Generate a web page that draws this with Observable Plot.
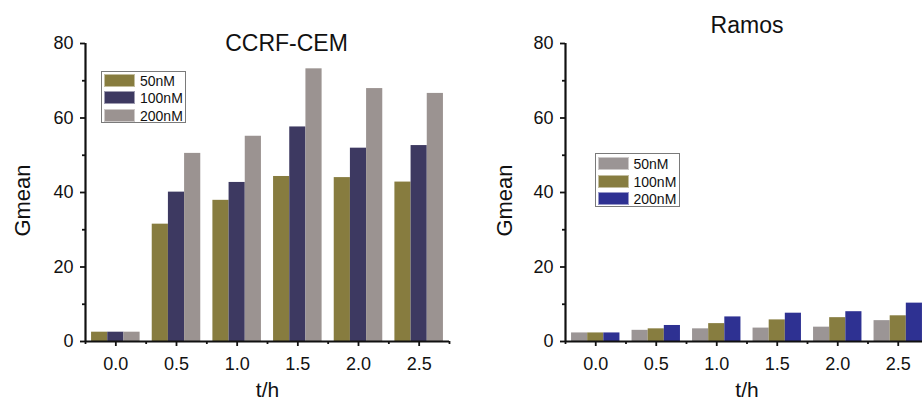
<!DOCTYPE html>
<html>
<head>
<meta charset="utf-8">
<script src="https://cdn.jsdelivr.net/npm/d3@7"></script>
<script src="https://cdn.jsdelivr.net/npm/@observablehq/plot@0.6"></script>
<style>
  body { margin: 0; background: #fff; font-family: "Liberation Sans", Arial, sans-serif; }
  #wrap { position: relative; width: 922px; height: 402px; overflow: hidden; }
  .panel { position: absolute; top: 0; height: 402px; overflow: hidden; }
  .panel svg { max-width: none !important; }
  .legend { position: absolute; box-sizing: border-box; border: 1px solid #7a7a7a; background: #fff; width: 85px; }
  .legend .sw { position: absolute; width: 31px; height: 13px; box-sizing: border-box; border: 1px solid rgba(255,255,255,0.5); }
  .legend .lb { position: absolute; font-size: 14px; line-height: 14px; color: #111; white-space: nowrap; }
</style>
</head>
<body>
<div id="wrap"></div>
<script>
// ---- data ----
const tValues = [0, 0.5, 1, 1.5, 2, 2.5];
const tLabels = ["0.0", "0.5", "1.0", "1.5", "2.0", "2.5"];
const concentrations = ["50nM", "100nM", "200nM"];

const ccrf50  = [2.5, 31.5, 37.9, 44.3, 44.0, 42.8];
const ccrf100 = [2.5, 40.1, 42.7, 57.6, 51.9, 52.6];
const ccrf200 = [2.5, 50.5, 55.1, 73.2, 67.9, 66.6];

const ramos50  = [2.3, 3.0, 3.4, 3.6, 3.85, 5.6];
const ramos100 = [2.3, 3.4, 4.8, 5.8, 6.4, 6.9];
const ramos200 = [2.3, 4.3, 6.6, 7.6, 8.0, 10.3];

const yTicks = [0, 20, 40, 60, 80];
const yMinorTicks = [10, 30, 50, 70];

const ccrfColors  = ["#877c3f", "#3d3961", "#9b9391"];
const ramosColors = ["#9b9595", "#877d40", "#2e3192"];

// ---- layout/style constants ----
const groupStep = 0.5;
const groupFill = 0.8;
const FONT = "'Liberation Sans', Arial, sans-serif";

function panel(cfg) {
  const rows = [];
  cfg.series.forEach((vals, i) =>
    vals.forEach((v, j) => rows.push({t: tValues[j], conc: concentrations[i], i, value: v}))
  );
  const n = concentrations.length;
  const bw = groupFill * groupStep / n;
  const xDomain = [tValues[0] - groupStep / 2, tValues[tValues.length - 1] + groupStep / 2];
  const boundaries = [...tValues.map(t => t - groupStep / 2), xDomain[1]];
  const svg = Plot.plot({
    width: cfg.width,
    height: 402,
    marginLeft: cfg.marginLeft,
    marginRight: cfg.marginRight,
    marginTop: 43,
    marginBottom: 61,
    style: {fontFamily: FONT, fontSize: "18px", color: "#111", background: "transparent", overflow: "visible", maxWidth: "none"},
    x: {domain: xDomain},
    y: {domain: [0, 80]},
    color: {domain: concentrations, range: cfg.colors},
    marks: [
      Plot.rectY(rows, {
        x1: d => d.t + (d.i - n / 2) * bw,
        x2: d => d.t + (d.i - n / 2 + 1) * bw,
        y: "value",
        fill: "conc"
      }),
      Plot.ruleY([0], {strokeWidth: 2.2, stroke: "#111"}),
      Plot.ruleX([xDomain[0]], {strokeWidth: 2.2, stroke: "#111"}),
      Plot.axisY({ticks: yTicks, tickSize: 5, tickPadding: 7, strokeWidth: 1.8, label: null}),
      Plot.axisY({ticks: yMinorTicks, tickSize: 3, tickFormat: () => "", strokeWidth: 1.8, label: null}),
      Plot.axisX({ticks: tValues, tickSize: 5, tickPadding: 11, strokeWidth: 1.8, tickFormat: d3.format(".1f"), label: null}),
      Plot.axisX({ticks: boundaries, tickSize: 3, tickFormat: () => "", strokeWidth: 1.8, label: null}),
      Plot.text([cfg.title], {text: d => d, frameAnchor: "top", dx: cfg.titleDx, dy: cfg.titleDy, lineAnchor: "bottom", fontSize: 23, fill: "#111"}),
      Plot.text(["Gmean"], {text: d => d, frameAnchor: "left", rotate: -90, dx: cfg.yLabelDx, dy: 8, textAnchor: "middle", lineAnchor: "middle", fontSize: 22, fill: "#111"}),
      Plot.text(["t/h"], {text: d => d, frameAnchor: "bottom", dx: cfg.xLabelDx, dy: 55, lineAnchor: "bottom", fontSize: 21, fill: "#111"})
    ]
  });
  svg.style.maxWidth = "none";
  return svg;
}

function legend(colors, box) {
  const el = document.createElement("div");
  el.className = "legend";
  el.style.left = box.left + "px";
  el.style.top = box.top + "px";
  el.style.height = box.height + "px";
  concentrations.forEach((c, i) => {
    const sw = document.createElement("div");
    sw.className = "sw";
    sw.style.left = box.swLeft + "px";
    sw.style.top = (box.rowTop + i * box.pitch) + "px";
    sw.style.background = colors[i];
    el.appendChild(sw);
    const lb = document.createElement("div");
    lb.className = "lb";
    lb.textContent = c;
    lb.style.left = box.textLeft + "px";
    lb.style.top = (box.rowTop + i * box.pitch) + "px";
    el.appendChild(lb);
  });
  return el;
}

const wrap = document.getElementById("wrap");

const left = document.createElement("div");
left.className = "panel";
left.style.left = "0px";
left.style.width = "461px";
left.appendChild(panel({
  width: 461, marginLeft: 85, marginRight: 12,
  series: [ccrf50, ccrf100, ccrf200], colors: ccrfColors,
  title: "CCRF-CEM", titleDx: 19, titleDy: 7, yLabelDx: -63, xLabelDx: 0
}));
left.appendChild(legend(ccrfColors, {left: 101, top: 71, height: 52, swLeft: 2, rowTop: 2, pitch: 17.3, textLeft: 38}));
wrap.appendChild(left);

const right = document.createElement("div");
right.className = "panel";
right.style.left = "461px";
right.style.width = "461px";
right.appendChild(panel({
  width: 470, marginLeft: 104, marginRight: 3,
  series: [ramos50, ramos100, ramos200], colors: ramosColors,
  title: "Ramos", titleDx: 0, titleDy: -11, yLabelDx: -61, xLabelDx: 0
}));
right.appendChild(legend(ramosColors, {left: 134, top: 153, height: 54, swLeft: 1.5, rowTop: 3, pitch: 17.7, textLeft: 37.5}));
wrap.appendChild(right);
</script>
</body>
</html>
